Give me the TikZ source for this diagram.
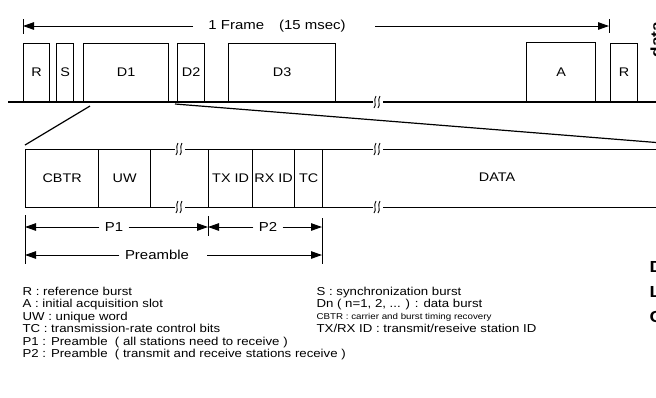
\documentclass[tikz,border=0pt]{standalone}
\usepackage{fontspec}
\setmainfont[FakeStretch=1.15]{Liberation Sans}
\usetikzlibrary{arrows.meta}
\newcommand{\fsz}[1]{\fontsize{#1}{#1}\selectfont}
\begin{document}
\begin{tikzpicture}[x=1pt,y=-1pt,line width=1.2pt,
  box/.style={draw,line width=1.2pt,inner sep=0pt,anchor=south west,font=\fsz{12.5}},
  cell/.style={draw,line width=1.2pt,inner sep=0pt,anchor=north west,minimum height=58pt,font=\fsz{12.5}},
  dim/.style={line width=1pt,-{Triangle[length=11pt,width=7.5pt]}},
  bar/.style={line width=1pt},
  dlbl/.style={font=\fsz{13},inner sep=5pt},
  leg/.style={anchor=base west,inner sep=0pt,font=\fsz{11.5}},
  legs/.style={anchor=base west,inner sep=0pt,font=\fsz{8.5}},
  frag/.style={anchor=base west,inner sep=0pt,font=\bfseries\fsz{16}},
  brk/.pic={\fill[white] (-5,-4) rectangle (5,4);
    \draw[line width=0.9pt] (-4,6) .. controls (-1,3) and (-5,-2) .. (-2,-6);
    \draw[line width=0.9pt] (0,6) .. controls (3,3) and (-1,-2) .. (2,-6);}
]
\clip (0,0) rectangle (656,397);
% ---------- top frame ----------
\draw (8,102) -- (660,102);
\node[box,minimum width=26,minimum height=58] (R1) at (23,102) {R};
\node[box,minimum width=17,minimum height=58] (S)  at (56,102) {S};
\node[box,minimum width=85,minimum height=58] (D1) at (83,102) {D1};
\node[box,minimum width=27,minimum height=58] (D2) at (177,102) {D2};
\node[box,minimum width=107,minimum height=58] (D3) at (228,102) {D3};
\node[box,minimum width=69,minimum height=59] (A)  at (526,102) {A};
\node[box,minimum width=27,minimum height=58] (R2) at (610,102) {R};
\pic at (378,102) {brk};
% frame dimension
\draw[bar] (23,19) -- (23,34);
\draw[bar] (609,19) -- (609,33);
\node[font=\fsz{13},inner sep=0pt] (frame) at (277,26) {1 Frame\hspace{15pt}(15 msec)};
\coordinate (fL) at (193,26);
\coordinate (fR) at (375,26);
\coordinate (fLe) at (23,26);
\coordinate (fRe) at (609,26);
\draw[dim] (fL) -- (fLe);
\draw[dim] (fR) -- (fRe);
% ---------- zoom lines ----------
\coordinate (z1a) at (90,106);
\coordinate (z1b) at (25,145);
\coordinate (z2a) at (175,104);
\coordinate (z2b) at (700,146);
\draw (z1a) -- (z1b);
\draw (z2a) -- (z2b);
% ---------- burst detail ----------
\node[cell,minimum width=73] (cbtr) at (25,149) {CBTR};
\node[cell,minimum width=52] (uw)   at (98,149) {UW};
\node[cell,minimum width=58] (gp)   at (150,149) {};
\node[cell,minimum width=44] (txid) at (208,149) {TX ID};
\node[cell,minimum width=42] (rxid) at (252,149) {RX ID};
\node[cell,minimum width=28] (tc)   at (294,149) {TC};
\node[cell,minimum width=400] (data) at (322,149) {};
\node[font=\fsz{12.5}] (datal) at (497,177) {DATA};
\pic at (180,149) {brk};
\pic at (180,207) {brk};
\pic at (378,149) {brk};
\pic at (378,207) {brk};
% ---------- dimensions ----------
\draw[bar] (25,215) -- (25,264);
\draw[bar] (208,216) -- (208,236);
\draw[bar] (322,218) -- (322,264);
\node[dlbl] (p1) at (114,227) {P1};
\node[dlbl] (p2) at (268,227) {P2};
\node[dlbl] (pre) at (157,255) {Preamble};
\coordinate (p1l) at (25,227);
\coordinate (p1r) at (208,227);
\coordinate (p2l) at (208,227);
\coordinate (p2r) at (322,227);
\coordinate (prl) at (25,255);
\coordinate (prs) at (207,255);
\coordinate (prr) at (322,255);
\draw[dim] (p1.west) -- (p1l);
\draw[dim] (p1.east) -- (p1r);
\draw[dim] (p2.west) -- (p2l);
\draw[dim] (p2.east) -- (p2r);
\draw[dim] (pre.west) -- (prl);
\draw[dim] (prs) -- (prr);
% ---------- legend ----------
\node[leg] (l1) at (22,295) {R : reference burst};
\node[leg] (l2) at (22,307.5) {A : initial acquisition slot};
\node[leg] (l3) at (22,320) {UW : unique word};
\node[leg] (l4) at (22,332.5) {TC : transmission-rate control bits};
\node[leg] (l5) at (22,345) {P1 : Preamble\ \ ( all stations need to receive )};
\node[leg] (l6) at (22,357.5) {P2 : Preamble\ \ ( transmit and receive stations receive )};
\node[leg] (r1) at (316,295) {S : synchronization burst};
\node[leg] (r2) at (316,307.5) {Dn ( n=1, 2, ... ) : data burst};
\node[legs] (r3) at (316,319) {CBTR : carrier and burst timing recovery};
\node[leg] (r4) at (316,332.5) {TX/RX ID : transmit/reseive station ID};
% ---------- cut-off fragments at right edge ----------
\node[frag] (fd) at (649,272) {D};
\node[frag] (fl) at (649,297) {L};
\node[frag] (fc) at (649,322) {C};
\node[font=\bfseries\fsz{15},rotate=90,anchor=south west,inner sep=0pt] (fdata) at (662,58) {data};
\end{tikzpicture}
\end{document}
